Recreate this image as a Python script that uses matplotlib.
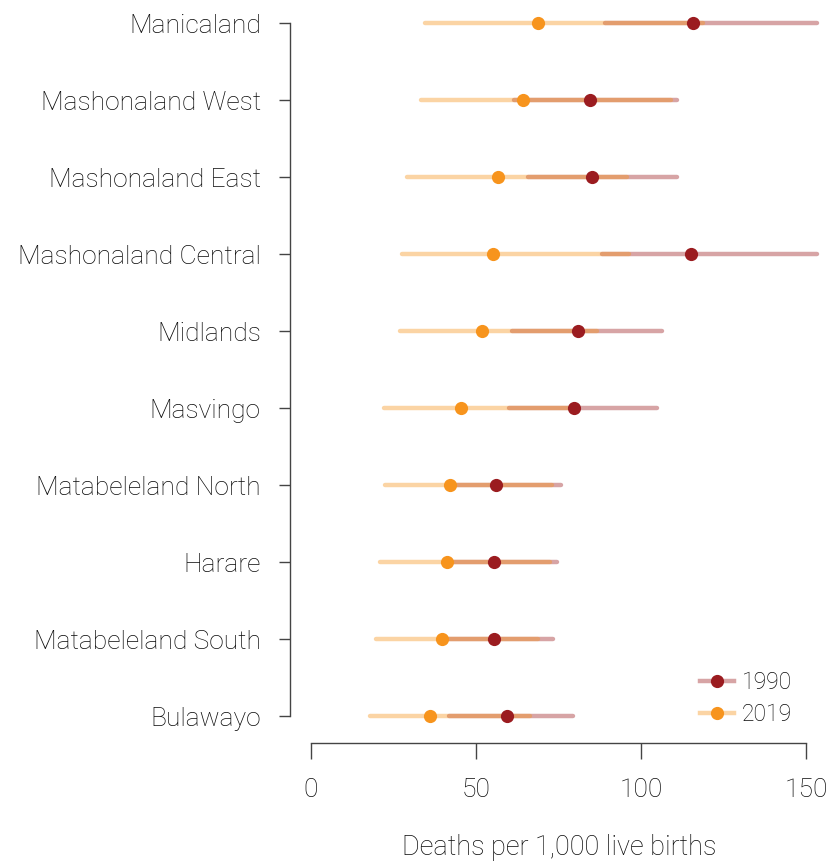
import matplotlib
matplotlib.use('Agg')
import matplotlib.pyplot as plt
from matplotlib.lines import Line2D

plt.rcParams['font.family'] = ['Roboto', 'DejaVu Sans']
plt.rcParams['font.weight'] = 'light'
plt.rcParams['axes.labelweight'] = 'light'

# regions, top to bottom
regions = ['Manicaland', 'Mashonaland West', 'Mashonaland East', 'Mashonaland Central',
           'Midlands', 'Masvingo', 'Matabeleland North', 'Harare', 'Matabeleland South', 'Bulawayo']

# 1990: estimate, lower, upper
est_1990 = [115.8, 84.6, 85.2, 115.2, 81.0, 79.6, 56.2, 55.5, 55.5, 59.3]
low_1990 = [89.1, 61.5, 65.7, 88.3, 60.9, 60.1, 43.0, 40.5, 40.5, 41.9]
high_1990 = [153.5, 111.0, 111.0, 153.5, 106.3, 104.8, 75.8, 74.7, 73.4, 79.3]

# 2019: estimate, lower, upper
est_2019 = [68.7, 64.2, 56.7, 55.3, 51.9, 45.5, 42.2, 41.1, 39.8, 36.2]
low_2019 = [34.5, 33.3, 29.2, 27.7, 27.0, 22.2, 22.4, 20.9, 19.8, 18.0]
high_2019 = [118.8, 109.0, 95.7, 96.5, 86.8, 79.5, 72.9, 72.4, 68.9, 66.4]

red = '#9b1c20'
orange = '#f7941d'
text_col = '#0a0a0a'

fig = plt.figure(figsize=(8.31, 8.63), dpi=100)
ax = fig.add_axes([290 / 831, 120 / 863, 539 / 831, 738 / 863])

ys = list(range(len(regions)))
lw = 3.2
ms = 9.5

ax.hlines(ys, low_1990, high_1990, color=red, alpha=0.4, lw=lw, capstyle='round', zorder=2)
ax.hlines(ys, low_2019, high_2019, color=orange, alpha=0.4, lw=lw, capstyle='round', zorder=3)
ax.plot(est_2019, ys, 'o', color=orange, ms=ms, mec='none', zorder=4)
ax.plot(est_1990, ys, 'o', color=red, ms=ms, mec='none', zorder=5)

ax.set_xlim(-6.36, 157)
ax.set_ylim(9.35, -0.234)

for s in ['top', 'right']:
  ax.spines[s].set_visible(False)
ax.spines['left'].set_bounds(0, 9)
ax.spines['bottom'].set_bounds(0, 150)
for s in ['left', 'bottom']:
  ax.spines[s].set_color('#444444')
  ax.spines[s].set_linewidth(1.0)

ax.set_yticks(ys)
ax.set_yticklabels(regions)
ax.set_xticks([0, 50, 100, 150])
ax.tick_params(axis='y', length=8, width=1.0, color='#444444', pad=13,
               labelsize=19, labelcolor=text_col)
ax.tick_params(axis='x', length=11.5, width=1.0, color='#444444', pad=14,
               labelsize=19, labelcolor=text_col)
ax.set_xlabel('Deaths per 1,000 live births', fontsize=19.5, color=text_col, labelpad=23)

handles = [
  Line2D([0], [0], color=(155 / 255, 28 / 255, 32 / 255, 0.4), lw=lw,
         marker='o', ms=ms, mfc=red, mec='none'),
  Line2D([0], [0], color=(247 / 255, 148 / 255, 29 / 255, 0.4), lw=lw,
         marker='o', ms=ms, mfc=orange, mec='none'),
]
leg = ax.legend(handles, ['1990', '2019'], loc='lower right', frameon=False,
                fontsize=16.5, handlelength=1.5, handletextpad=0.35, labelspacing=0.4,
                bbox_to_anchor=(0.97, -0.005))
for t in leg.get_texts():
  t.set_color(text_col)

fig.savefig('out.png', dpi=100)
